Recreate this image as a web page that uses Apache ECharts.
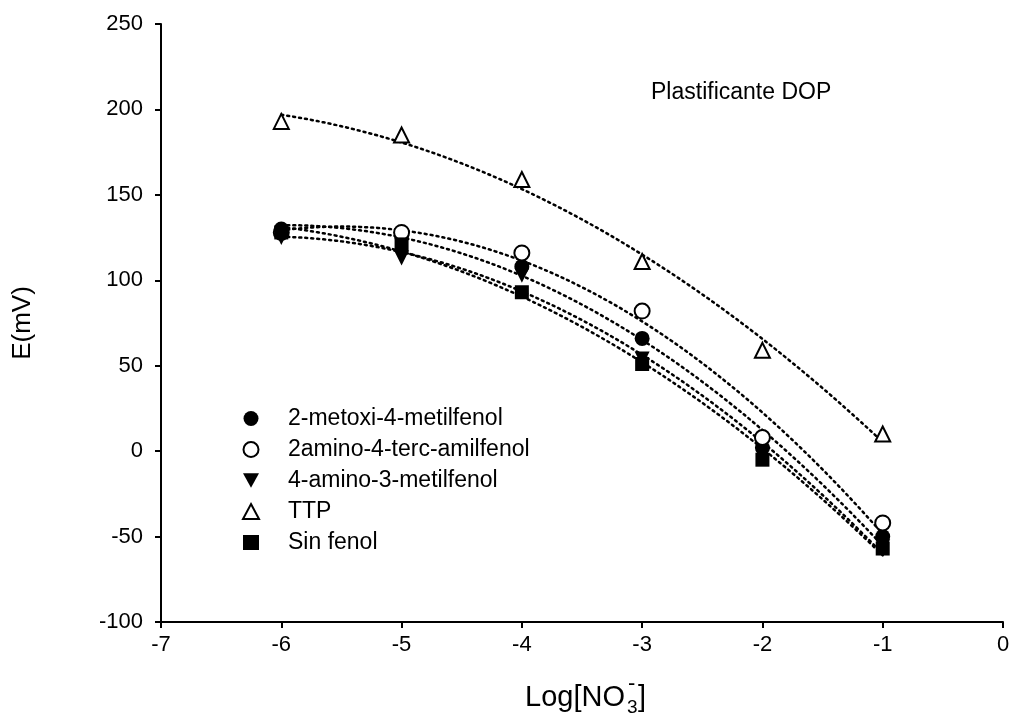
<!DOCTYPE html>
<html>
<head>
<meta charset="utf-8">
<script src="https://cdn.jsdelivr.net/npm/echarts@6/dist/echarts.min.js"></script>
<style>html,body{margin:0;padding:0;background:#fff}#c{width:1017px;height:720px}</style>
</head>
<body>
<div id="c"></div>
<script>
// ---- data ----
const xValues = [-6, -5, -4, -3, -2, -1];
const metoxi = [130, 126, 108, 66, 2, -50];      // 2-metoxi-4-metilfenol
const aminoTerc = [128, 128, 116, 82, 8, -42];   // 2amino-4-terc-amilfenol
const amino3 = [125, 113, 103, 54, -2, -56];     // 4-amino-3-metilfenol
const ttp = [193, 185, 159, 111, 59, 10];        // TTP
const sinFenol = [128, 121, 93, 51, -5, -57];    // Sin fenol
const seriesNames = ['2-metoxi-4-metilfenol', '2amino-4-terc-amilfenol', '4-amino-3-metilfenol', 'TTP', 'Sin fenol'];
const xTicks = [-7, -6, -5, -4, -3, -2, -1, 0];
const yTicks = [-100, -50, 0, 50, 100, 150, 200, 250];

// quadratic least-squares regression (trend line of each data set)
function quadFit(xs, ys) {
  let n = xs.length, s = [0,0,0,0,0], t = [0,0,0];
  for (let i = 0; i < n; i++) {
    const x = xs[i], y = ys[i];
    let p = 1;
    for (let k = 0; k < 5; k++) { s[k] += p; if (k < 3) t[k] += p * y; p *= x; }
  }
  const A = [[s[0], s[1], s[2], t[0]], [s[1], s[2], s[3], t[1]], [s[2], s[3], s[4], t[2]]];
  for (let i = 0; i < 3; i++) {
    for (let j = i + 1; j < 3; j++) {
      const f = A[j][i] / A[i][i];
      for (let k = i; k < 4; k++) A[j][k] -= f * A[i][k];
    }
  }
  const c = [0, 0, 0];
  for (let i = 2; i >= 0; i--) {
    let v = A[i][3];
    for (let k = i + 1; k < 3; k++) v -= A[i][k] * c[k];
    c[i] = v / A[i][i];
  }
  return c;
}
function fitCurve(xs, ys) {
  const c = quadFit(xs, ys);
  const out = [], x0 = xs[0], x1 = xs[xs.length - 1], steps = 100;
  for (let i = 0; i <= steps; i++) {
    const x = x0 + (x1 - x0) * i / steps;
    out.push([x, c[0] + c[1] * x + c[2] * x * x]);
  }
  return out;
}
const pairs = ys => xValues.map((x, i) => [x, ys[i]]);

const FONT = 'Liberation Sans, Arial, sans-serif';
const sets = [
  { name: seriesNames[0], data: metoxi, symbol: 'circle', size: 15, fill: '#000' },
  { name: seriesNames[1], data: aminoTerc, symbol: 'circle', size: 15, fill: '#fff' },
  { name: seriesNames[2], data: amino3, symbol: 'path://M0,0 L10,0 L5,9 Z', size: 15, fill: '#000' },
  { name: seriesNames[3], data: ttp, symbol: 'triangle', size: 15, fill: '#fff' },
  { name: seriesNames[4], data: sinFenol, symbol: 'rect', size: 14, fill: '#000' }
];

const series = [];
sets.forEach(s => {
  series.push({
    type: 'line', data: fitCurve(xValues, s.data), showSymbol: false, silent: true,
    lineStyle: { color: '#000', width: 2.5, type: [2, 4], cap: 'round' }, z: 1, animation: false
  });
});
sets.forEach(s => {
  series.push({
    type: 'scatter', name: s.name, data: pairs(s.data), symbol: s.symbol, symbolSize: s.size,
    itemStyle: { color: s.fill, borderColor: '#000', borderWidth: s.fill === '#fff' ? 2 : 0, opacity: 1 },
    z: 3, animation: false
  });
});

const chart = echarts.init(document.getElementById('c'));
chart.setOption({
  backgroundColor: '#fff',
  animation: false,
  title: { text: 'Plastificante DOP', left: 646, top: 76,
    textStyle: { fontFamily: FONT, fontSize: 23, fontWeight: 'normal', color: '#000' } },
  legend: {
    data: seriesNames, orient: 'vertical', left: 237, top: 402,
    itemWidth: 16, itemHeight: 15, itemGap: 8,
    textStyle: { fontFamily: FONT, fontSize: 23, color: '#000', lineHeight: 22, padding: [0, 0, 0, 24] },
    selectedMode: false
  },
  grid: { left: 161, right: 14, top: 24, bottom: 98 },
  xAxis: {
    type: 'value', min: xTicks[0], max: xTicks[xTicks.length - 1], interval: 1,
    axisLine: { show: true, onZero: false, lineStyle: { color: '#000', width: 2 } },
    axisTick: { show: true, length: 6, lineStyle: { color: '#000', width: 2 } },
    axisLabel: { fontFamily: FONT, fontSize: 22, color: '#000', margin: 12 },
    splitLine: { show: false }
  },
  yAxis: {
    type: 'value', min: yTicks[0], max: yTicks[yTicks.length - 1], interval: 50,
    axisLine: { show: true, onZero: false, lineStyle: { color: '#000', width: 2 } },
    axisTick: { show: true, length: 6, lineStyle: { color: '#000', width: 2 } },
    axisLabel: { fontFamily: FONT, fontSize: 22, color: '#000', margin: 18 },
    splitLine: { show: false }
  },
  graphic: [
    { type: 'text', x: 23, y: 323, rotation: Math.PI / 2,
      style: { text: 'E(mV)', fontFamily: FONT, fontSize: 26, fill: '#000', align: 'center', verticalAlign: 'middle' } },
    { type: 'text', x: 525, y: 698,
      style: { text: 'Log[NO', fontFamily: FONT, fontSize: 29, fill: '#000', align: 'left', verticalAlign: 'middle' } },
    { type: 'text', x: 627, y: 708,
      style: { text: '3', fontFamily: FONT, fontSize: 19, fill: '#000', align: 'left', verticalAlign: 'middle' } },
    { type: 'text', x: 628, y: 684,
      style: { text: '-', fontFamily: FONT, fontSize: 22, fill: '#000', align: 'left', verticalAlign: 'middle' } },
    { type: 'text', x: 638, y: 698,
      style: { text: ']', fontFamily: FONT, fontSize: 29, fill: '#000', align: 'left', verticalAlign: 'middle' } }
  ],
  series: series
});
</script>
</body>
</html>
